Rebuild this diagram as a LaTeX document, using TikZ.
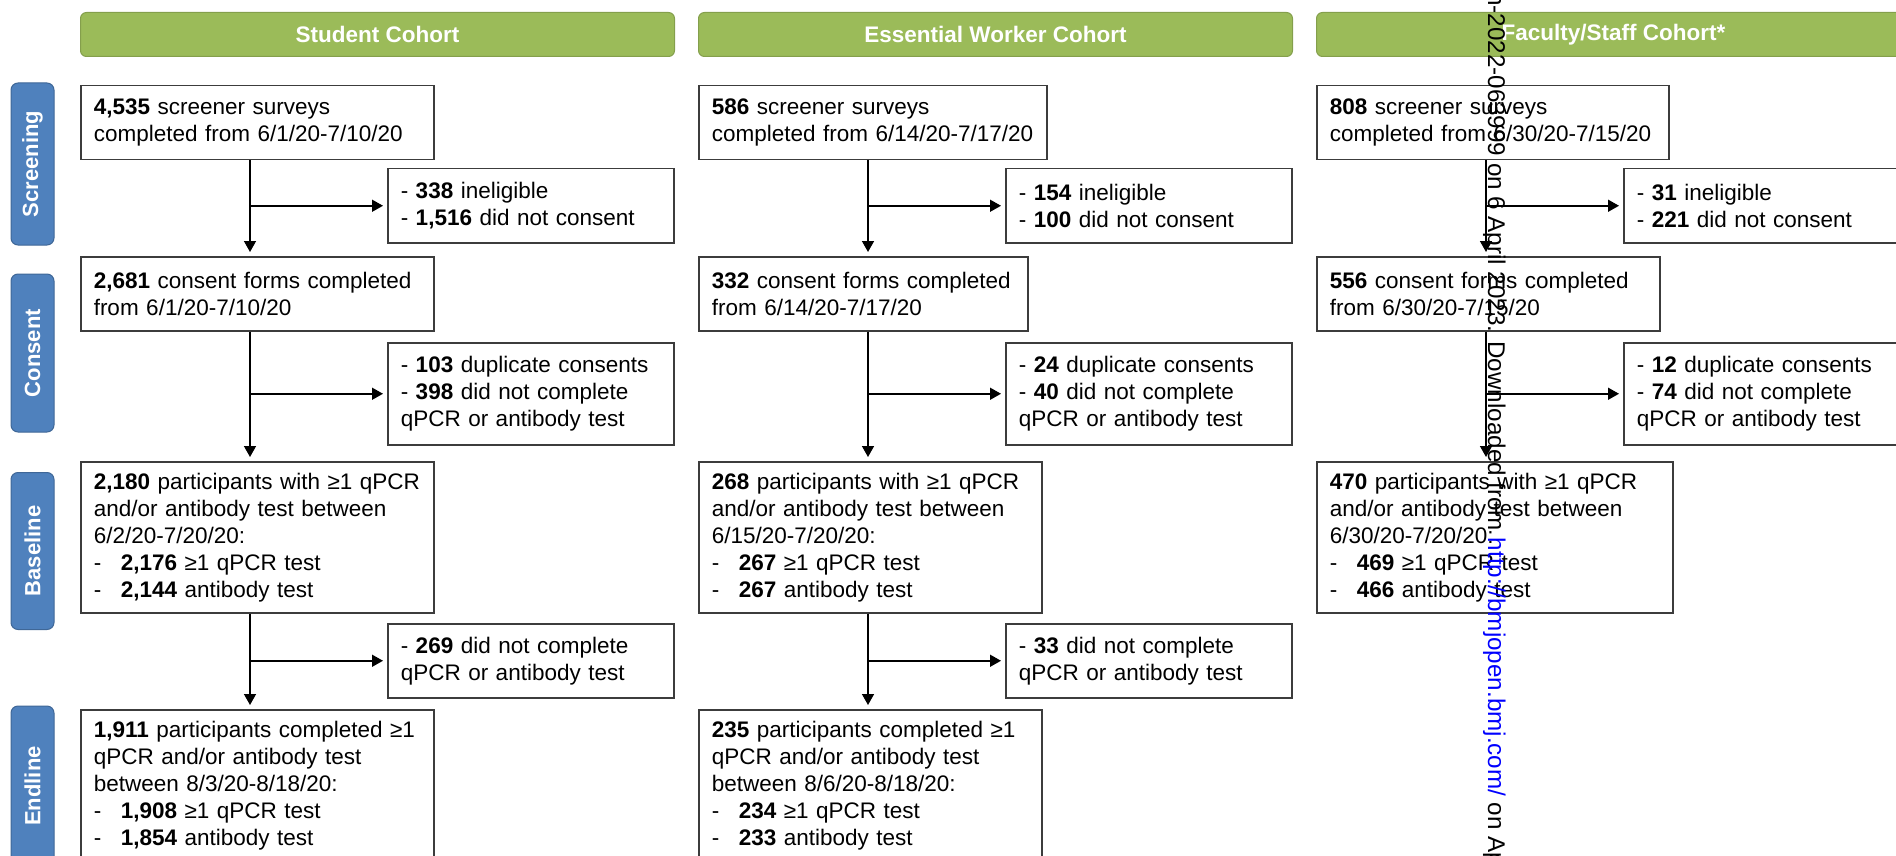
\documentclass[tikz,border=0pt]{standalone}
\usepackage{fontspec}
\setmainfont{Liberation Sans}
\usetikzlibrary{arrows.meta,calc}
\definecolor{CohortClr}{RGB}{155,187,89}
\definecolor{StageClr}{RGB}{79,129,189}
\definecolor{BoxLineClr}{RGB}{60,60,60}
\newcommand\flowfont{\fontsize{22.5}{27}\selectfont}
\newcommand\bul[1]{\makebox[27pt][l]{-}\textbf{#1}}

\begin{document}
\begin{tikzpicture}[x=1pt,y=-1pt,font=\flowfont,
  cohort/.style={fill=CohortClr,draw=CohortClr!85!black,line width=1pt,rounded corners=6pt,
    text=white,font=\flowfont\bfseries,anchor=north west,minimum width=594pt,minimum height=44pt,inner sep=0pt},
  stage/.style={fill=StageClr,draw=StageClr!80!black,line width=1pt,rounded corners=7pt,
    text=white,font=\fontsize{22}{26}\selectfont\bfseries,rotate=90,minimum height=43pt,inner sep=0pt},
  flowbox/.style={draw=BoxLineClr,line width=1.5pt,anchor=north west,align=left,
    inner xsep=13pt,inner ysep=0pt,text width=#1},
  flow/.style={line width=1.5pt,-{Triangle[length=11pt,width=12pt]},shorten >=4pt}]
\useasboundingbox (0,0) rectangle (1896,856);

\node[cohort] (Stu) at (80,12) {Student Cohort};
\node[cohort] (Ess) at (698,12) {Essential Worker Cohort};
\node[cohort] (Fac) at (1316,12) {Faculty/Staff Cohort*};

\node[stage,minimum width=162pt] (Scr) at (32.5,164) {Screening};
\node[stage,minimum width=158pt] (Con) at (32.5,353) {Consent};
\node[stage,minimum width=157pt] (Bas) at (32.5,551) {Baseline};
\node[stage,minimum width=160pt] (End) at (32.5,786) {Endline};

\node[flowbox=327pt,minimum height=74pt] (S1) at (80,85) {\textbf{4,535} screener surveys\\completed from 6/1/20-7/10/20};
\node[flowbox=260pt,minimum height=74pt] (SX1) at (387,168) {- \textbf{338} ineligible\\- \textbf{1,516} did not consent};
\node[flowbox=327pt,minimum height=74pt] (S2) at (80,256) {\textbf{2,681} consent forms completed\\from 6/1/20-7/10/20};
\node[flowbox=260pt,minimum height=102pt] (SX2) at (387,342) {- \textbf{103} duplicate consents\\- \textbf{398} did not complete\\qPCR or antibody test};
\node[flowbox=327pt,minimum height=151pt] (S3) at (80,461) {\textbf{2,180} participants with ≥1 qPCR\\and/or antibody test between\\6/2/20-7/20/20:\\\bul{2,176} ≥1 qPCR test\\\bul{2,144} antibody test};
\node[flowbox=260pt,minimum height=74pt] (SX3) at (387,623) {- \textbf{269} did not complete\\qPCR or antibody test};
\node[flowbox=327pt,minimum height=151pt] (S4) at (80,709) {\textbf{1,911} participants completed ≥1\\qPCR and/or antibody test\\between 8/3/20-8/18/20:\\\bul{1,908} ≥1 qPCR test\\\bul{1,854} antibody test};

\node[flowbox=322pt,minimum height=74pt] (E1) at (698,85) {\textbf{586} screener surveys\\completed from 6/14/20-7/17/20};
\node[flowbox=260pt,minimum height=74pt] (EX1) at (1005,168) {- \textbf{154} ineligible\\- \textbf{100} did not consent};
\node[flowbox=303pt,minimum height=74pt] (E2) at (698,256) {\textbf{332} consent forms completed\\from 6/14/20-7/17/20};
\node[flowbox=260pt,minimum height=102pt] (EX2) at (1005,342) {- \textbf{24} duplicate consents\\- \textbf{40} did not complete\\qPCR or antibody test};
\node[flowbox=317pt,minimum height=151pt] (E3) at (698,461) {\textbf{268} participants with ≥1 qPCR\\and/or antibody test between\\6/15/20-7/20/20:\\\bul{267} ≥1 qPCR test\\\bul{267} antibody test};
\node[flowbox=260pt,minimum height=74pt] (EX3) at (1005,623) {- \textbf{33} did not complete\\qPCR or antibody test};
\node[flowbox=317pt,minimum height=151pt] (E4) at (698,709) {\textbf{235} participants completed ≥1\\qPCR and/or antibody test\\between 8/6/20-8/18/20:\\\bul{234} ≥1 qPCR test\\\bul{233} antibody test};

\node[flowbox=326pt,minimum height=74pt] (F1) at (1316,85) {\textbf{808} screener surveys\\completed from 6/30/20-7/15/20};
\node[flowbox=260pt,minimum height=74pt] (FX1) at (1623,168) {- \textbf{31} ineligible\\- \textbf{221} did not consent};
\node[flowbox=317pt,minimum height=74pt] (F2) at (1316,256) {\textbf{556} consent forms completed\\from 6/30/20-7/15/20};
\node[flowbox=260pt,minimum height=102pt] (FX2) at (1623,342) {- \textbf{12} duplicate consents\\- \textbf{74} did not complete\\qPCR or antibody test};
\node[flowbox=330pt,minimum height=151pt] (F3) at (1316,461) {\textbf{470} participants with ≥1 qPCR\\and/or antibody test between\\6/30/20-7/20/20:\\\bul{469} ≥1 qPCR test\\\bul{466} antibody test};

\foreach \c in {S,E,F}{
  \coordinate (\c t1) at ($(\c1.south west)+(170,0)$);
  \coordinate (\c t2) at ($(\c2.south west)+(170,0)$);
  \draw[flow] (\c t1) -- (\c t1 |- \c2.north);
  \draw[flow] (\c t1 |- \c X1.west) -- (\c X1.west);
  \draw[flow] (\c t2) -- (\c t2 |- \c3.north);
  \draw[flow] (\c t2 |- \c X2.west) -- (\c X2.west);
}
\coordinate (St3) at ($(S3.south west)+(170,0)$);
\draw[flow] (St3) -- (St3 |- S4.north);
\draw[flow] (St3 |- SX3.west) -- (SX3.west);
\coordinate (Et3) at ($(E3.south west)+(170,0)$);
\draw[flow] (Et3) -- (Et3 |- E4.north);
\draw[flow] (Et3 |- EX3.west) -- (EX3.west);

\node[rotate=-90,anchor=base west,inner sep=0pt,font=\fontsize{24.2}{29}\selectfont] (mark) at (1488,-8)
  {n-2022-063999 on 6 April 2023. Downloaded from \textcolor{blue}{http://bmjopen.bmj.com/} on Ap};
\end{tikzpicture}
\end{document}
